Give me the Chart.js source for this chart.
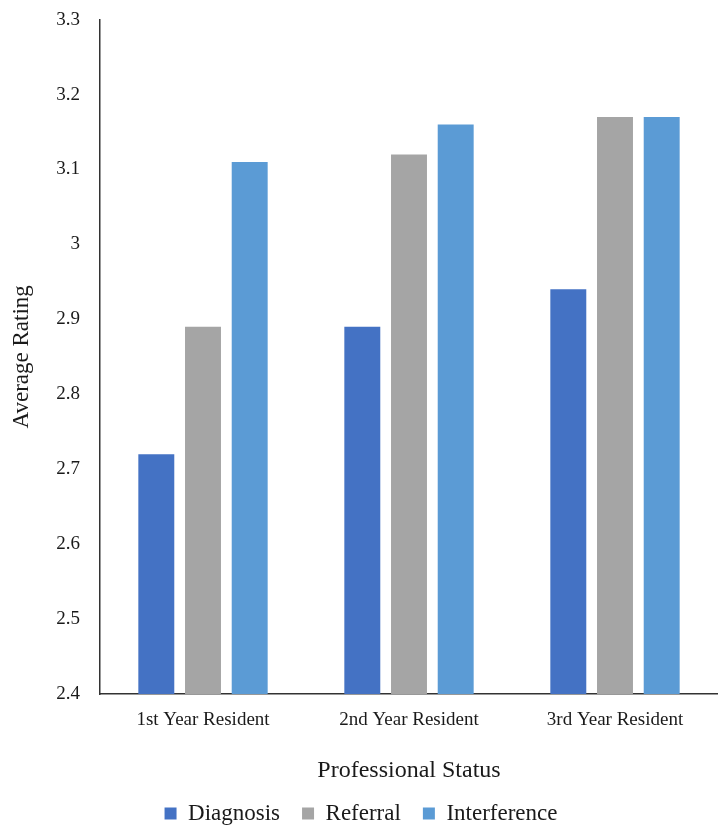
<!DOCTYPE html>
<html>
<head>
<meta charset="utf-8">
<script src="https://cdn.jsdelivr.net/npm/chart.js@4"></script>
<style>
  html, body { margin: 0; padding: 0; background: #fff; }
  #wrap { width: 718px; height: 826px; }
</style>
</head>
<body>
<div id="wrap"><canvas id="ratingChart"></canvas></div>
<script>
const categories = ['1st Year Resident', '2nd Year Resident', '3rd Year Resident'];
const diagnosis = [2.72, 2.89, 2.94];
const referral = [2.89, 3.12, 3.17];
const interference = [3.11, 3.16, 3.17];

const serif = '"Liberation Serif", "Times New Roman", serif';
const ink = '#1a1a1a';

const ctx = document.getElementById('ratingChart').getContext('2d');
new Chart(ctx, {
    type: 'bar',
    data: {
        labels: categories,
        datasets: [{
            label: 'Diagnosis',
            data: diagnosis,
            backgroundColor: '#4472C4'
        }, {
            label: 'Referral',
            data: referral,
            backgroundColor: '#A5A5A5'
        }, {
            label: 'Interference',
            data: interference,
            backgroundColor: '#5B9BD5'
        }]
    },
    options: {
        responsive: true,
        maintainAspectRatio: false,
        animation: false,
        datasets: {
            bar: { categoryPercentage: 0.68, barPercentage: 0.77 }
        },
        layout: { padding: { top: 0, left: 4, right: 0, bottom: -9 } },
        plugins: {
            tooltip: { enabled: false },
            legend: {
                position: 'bottom',
                labels: {
                    boxWidth: 12,
                    boxHeight: 12,
                    padding: 22,
                    color: ink,
                    font: { family: serif, size: 23 }
                }
            }
        },
        scales: {
            x: {
                grid: { display: false },
                border: { display: true, color: '#333', width: 1.5 },
                ticks: { color: ink, padding: 7, font: { family: serif, size: 19 } },
                title: {
                    display: true,
                    text: 'Professional Status',
                    color: ink,
                    padding: { top: 0, bottom: -3 },
                    font: { family: serif, size: 24, lineHeight: 1 }
                },
                afterFit: scale => { scale.height = 86; }
            },
            y: {
                min: 2.4,
                max: 3.3,
                grid: { display: false },
                border: { display: true, color: '#333', width: 1.5 },
                ticks: {
                    stepSize: 0.1,
                    color: ink,
                    padding: 12,
                    font: { family: serif, size: 19, lineHeight: 0.8 },
                    callback: v => String(Math.round(v * 10) / 10)
                },
                title: {
                    display: true,
                    text: 'Average Rating',
                    color: ink,
                    padding: { top: 4, bottom: 0 },
                    font: { family: serif, size: 23 }
                },
                afterFit: scale => { scale.width = 96; }
            }
        }
    }
});
</script>
</body>
</html>
